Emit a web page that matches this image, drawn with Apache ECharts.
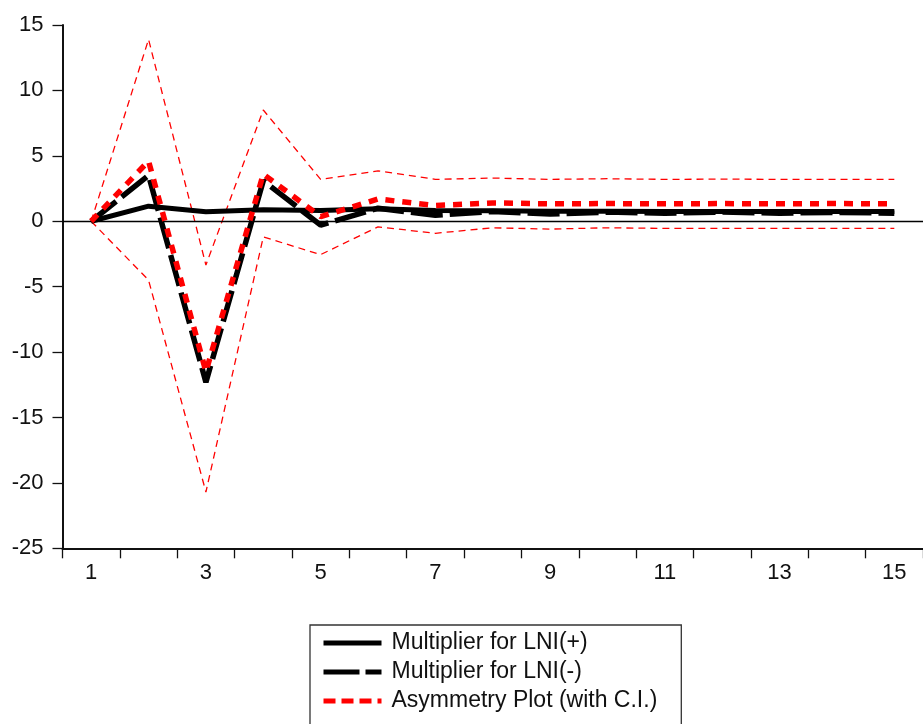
<!DOCTYPE html>
<html>
<head>
<meta charset="utf-8">
<script src="https://cdn.jsdelivr.net/npm/echarts@6/dist/echarts.min.js"></script>
<style>html,body{margin:0;padding:0;background:#fff;}#c{width:923px;height:724px;}</style>
</head>
<body>
<div id="c"></div>
<script>
var categories = ['1','2','3','4','5','6','7','8','9','10','11','12','13','14','15'];
var multPlus  = [0, 1.15, 0.72, 0.88, 0.82, 0.95, 0.82, 0.80, 0.76, 0.76, 0.75, 0.75, 0.75, 0.75, 0.75];
var multMinus = [0, 3.5, -12.3, 3.1, -0.3, 1.0, 0.45, 0.75, 0.55, 0.70, 0.62, 0.70, 0.62, 0.68, 0.62];
var asym      = [0, 4.6, -11.5, 3.6, 0.35, 1.7, 1.2, 1.4, 1.33, 1.35, 1.33, 1.35, 1.33, 1.35, 1.33];
var ciUpper   = [0, 13.9, -3.35, 8.5, 3.2, 3.85, 3.2, 3.3, 3.2, 3.25, 3.2, 3.22, 3.2, 3.2, 3.2];
var ciLower   = [0, -4.5, -20.7, -1.2, -2.55, -0.43, -0.92, -0.5, -0.6, -0.5, -0.55, -0.55, -0.55, -0.55, -0.55];
var yTicks = {min: -25, max: 15, interval: 5};
var names = ['Multiplier for LNI(+)', 'Multiplier for LNI(-)', 'Asymmetry Plot (with C.I.)'];

var font = 'Liberation Sans, Arial, sans-serif';
var noSym = {color: 'rgba(0,0,0,0)', borderWidth: 0, opacity: 0};
var chart = echarts.init(document.getElementById('c'), null, {renderer: 'canvas'});
chart.setOption({
  animation: false,
  backgroundColor: '#fff',
  grid: {left: 62.5, top: 25, right: -6.6, bottom: 175.7, containLabel: false},
  xAxis: {
    type: 'category',
    data: categories,
    boundaryGap: true,
    axisLine: {onZero: false, lineStyle: {color: '#111', width: 2}},
    axisTick: {show: true, interval: 0, length: 10, lineStyle: {color: '#111', width: 1.3}},
    axisLabel: {interval: 1, margin: 14, fontSize: 22, color: '#111', fontFamily: font},
    splitLine: {show: false}
  },
  yAxis: {
    type: 'value',
    min: yTicks.min, max: yTicks.max, interval: yTicks.interval,
    axisLine: {show: true, lineStyle: {color: '#111', width: 2}},
    axisTick: {show: true, length: 10, lineStyle: {color: '#111', width: 1.3}},
    axisLabel: {margin: 19, fontSize: 22, color: '#111', fontFamily: font},
    splitLine: {show: false}
  },
  legend: {
    left: 310, top: 625, height: 130,
    orient: 'vertical',
    padding: [6, 24, 12, 11],
    borderColor: '#333', borderWidth: 1.3,
    itemWidth: 58, itemHeight: 24, itemGap: 5,
    selectedMode: false,
    textStyle: {fontSize: 23, color: '#111', fontFamily: font, lineHeight: 24, padding: [0, 0, 0, 5]},
    data: [
      {name: names[0], itemStyle: noSym, lineStyle: {width: 5, type: 'solid', color: '#000'}},
      {name: names[1], itemStyle: noSym, lineStyle: {width: 5, type: [36, 6], color: '#000'}},
      {name: names[2], itemStyle: noSym, lineStyle: {width: 5, type: [12, 6], color: '#ff0000'}}
    ]
  },
  series: [
    {name: 'Upper C.I.', type: 'line', data: ciUpper, symbol: 'none', z: 2,
     itemStyle: {color: '#ff0000'},
     lineStyle: {color: '#ff0000', width: 1.3, type: [7, 5]}},
    {name: 'Lower C.I.', type: 'line', data: ciLower, symbol: 'none', z: 2,
     itemStyle: {color: '#ff0000'},
     lineStyle: {color: '#ff0000', width: 1.3, type: [7, 5]}},
    {name: names[0], type: 'line', data: multPlus, symbol: 'none', z: 3,
     itemStyle: {color: '#000'},
     lineStyle: {color: '#000', width: 5, type: 'solid'},
     markLine: {silent: true, symbol: 'none', label: {show: false},
       lineStyle: {color: '#000', width: 1.3, type: 'solid'},
       data: [{yAxis: 0}]}},
    {name: names[1], type: 'line', data: multMinus, symbol: 'none', z: 4,
     itemStyle: {color: '#000'},
     lineStyle: {color: '#000', width: 5.5, type: [32, 7]}},
    {name: names[2], type: 'line', data: asym, symbol: 'none', z: 5,
     itemStyle: {color: '#ff0000'},
     lineStyle: {color: '#ff0000', width: 5.5, type: [9, 8]}}
  ]
});
</script>
</body>
</html>
